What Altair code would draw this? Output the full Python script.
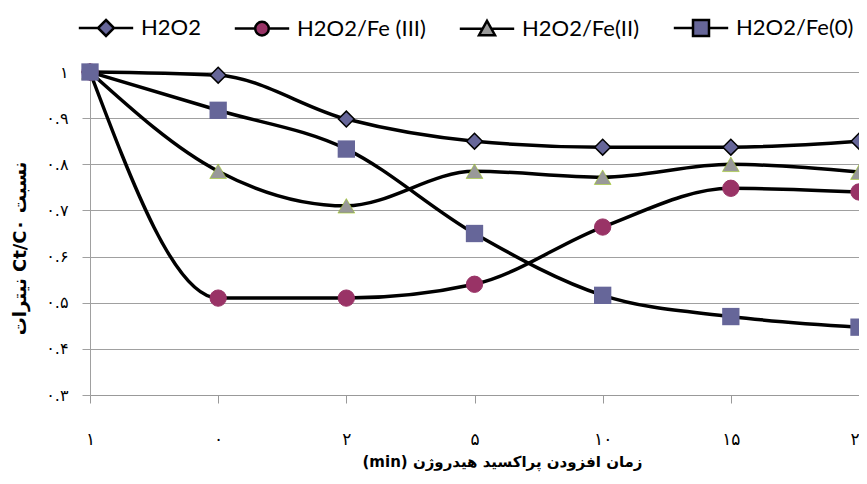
import altair as alt
import pandas as pd

categories = ["۱", "۰", "۲", "۵", "۱۰", "۱۵", "۲۰"]
series_names = ["H2O2", "H2O2/Fe (III)", "H2O2/Fe(II)", "H2O2/Fe(0)"]
h2o2 = [1.0, 0.993, 0.898, 0.850, 0.837, 0.837, 0.850]
fe3 = [1.0, 0.510, 0.510, 0.540, 0.664, 0.748, 0.740]
fe2 = [1.0, 0.785, 0.710, 0.785, 0.772, 0.800, 0.783]
fe0 = [1.0, 0.917, 0.833, 0.650, 0.516, 0.470, 0.447]
y_tick_values = [0.3, 0.4, 0.5, 0.6, 0.7, 0.8, 0.9, 1.0]
y_tick_labels = ["۰.۳", "۰.۴", "۰.۵", "۰.۶", "۰.۷", "۰.۸", "۰.۹", "۱"]
x_title = "\u202Bزمان افزودن پراکسید هیدروژن (min)\u202C"
y_title = "\u202Bنسبت Ct/C۰ نیترات\u202C"

rows = []
for name, vals in zip(series_names, [h2o2, fe3, fe2, fe0]):
    for i, (c, v) in enumerate(zip(categories, vals)):
        rows.append({"series": name, "time": c, "ratio": v, "order": i})
df = pd.DataFrame(rows)

label_expr = " : ".join(
    [f"abs(datum.value - {v}) < 0.001 ? '{l}'" for v, l in zip(y_tick_values, y_tick_labels)]
) + " : ''"

x_enc = alt.X(
    "time:N", sort=categories, scale=alt.Scale(type="point", padding=0),
    title=x_title,
    axis=alt.Axis(labelAngle=0, grid=False, domainColor="#999999", tickColor="#999999",
                  tickSize=8, labelPadding=28, labelFont="DejaVu Sans", labelFontSize=17,
                  labelColor="black", titleFont="DejaVu Sans", titleFontSize=15,
                  titleFontWeight="bold", titleColor="black", titlePadding=7, titleX=412),
)
y_enc = alt.Y(
    "ratio:Q", scale=alt.Scale(domain=[0.3, 1.0], nice=False, zero=False),
    title=y_title,
    axis=alt.Axis(values=y_tick_values, labelExpr=label_expr, grid=True, gridColor="#a0a0a0",
                  domainColor="#a0a0a0", tickColor="#a0a0a0", tickSize=8, labelPadding=14,
                  labelFont="DejaVu Sans", labelFontSize=16, labelColor="black",
                  titleFont="DejaVu Sans", titleFontSize=18, titleFontWeight="bold",
                  titleColor="black", titlePadding=16, titleY=176),
)

base = alt.Chart(df)

lines = base.mark_line(color="black", strokeWidth=3.5, interpolate="monotone").encode(
    x=x_enc, y=y_enc, detail="series:N", order="order:Q"
)

shape_range = ["diamond", "circle", "triangle-up", "square"]
fill_range = ["#666699", "#993366", "#999999", "#666699"]
stroke_range = ["black", "#993366", "#99cc00", "#666699"]
stroke_w_range = [1.5, 0, 2.5, 0]
size_range = [250, 300, 330, 290]

points = base.mark_point(filled=True, opacity=1).encode(
    x=x_enc, y=y_enc,
    shape=alt.Shape("series:N", scale=alt.Scale(domain=series_names, range=shape_range), legend=None),
    fill=alt.Fill("series:N", scale=alt.Scale(domain=series_names, range=fill_range), legend=None),
    stroke=alt.Stroke("series:N", scale=alt.Scale(domain=series_names, range=stroke_range), legend=None),
    strokeWidth=alt.StrokeWidth("series:N", scale=alt.Scale(domain=series_names, range=stroke_w_range), legend=None),
    size=alt.Size("series:N", scale=alt.Scale(domain=series_names, range=size_range), legend=None),
)

legend_paths = [
    "M-3.4,0H-1M1,0H3.4M0,-1L1,0L0,1L-1,0Z",
    "M-3.4,0H-0.85M0.85,0H3.4M-0.85,0A0.85,0.85 0 1,0 0.85,0A0.85,0.85 0 1,0 -0.85,0Z",
    "M-3.4,0H-0.5M0.5,0H3.4M0,-1L1,0.8L-1,0.8Z",
    "M-3.4,0H-1M1,0H3.4M-1,-1H1V1H-1Z",
]
legend_strokes = ["black", "black", "black", "black"]

legend_def = alt.Legend(
    title=None, orient="none", direction="horizontal", legendX=5, legendY=-55,
    symbolSize=256, symbolStrokeWidth=2.5, labelOffset=24, columnPadding=28,
    labelFont="Lato", labelFontSize=22, labelColor="black", symbolOpacity=1, labelLimit=400,
)

legend_layer = base.transform_filter("false").mark_point(filled=True, opacity=1, strokeWidth=2.5).encode(
    x=x_enc, y=y_enc,
    shape=alt.Shape("series:N", scale=alt.Scale(domain=series_names, range=legend_paths),
                    legend=legend_def),
    fill=alt.Fill("series:N", scale=alt.Scale(domain=series_names, range=fill_range),
                  legend=legend_def),
    stroke=alt.Stroke("series:N", scale=alt.Scale(domain=series_names, range=legend_strokes),
                      legend=legend_def),
)

chart = alt.layer(lines, points, legend_layer).resolve_scale(
    shape="independent", fill="independent", stroke="independent"
).resolve_legend(shape="independent", fill="independent", stroke="independent").properties(
    width=769, height=323,
    autosize=alt.AutoSizeParams(type="none"),
    padding={"left": 82, "top": 64, "right": 0, "bottom": 80},
).configure_view(stroke=None).configure(background="white")

chart.save("out.html", embed_options={"renderer": "svg", "actions": False})
